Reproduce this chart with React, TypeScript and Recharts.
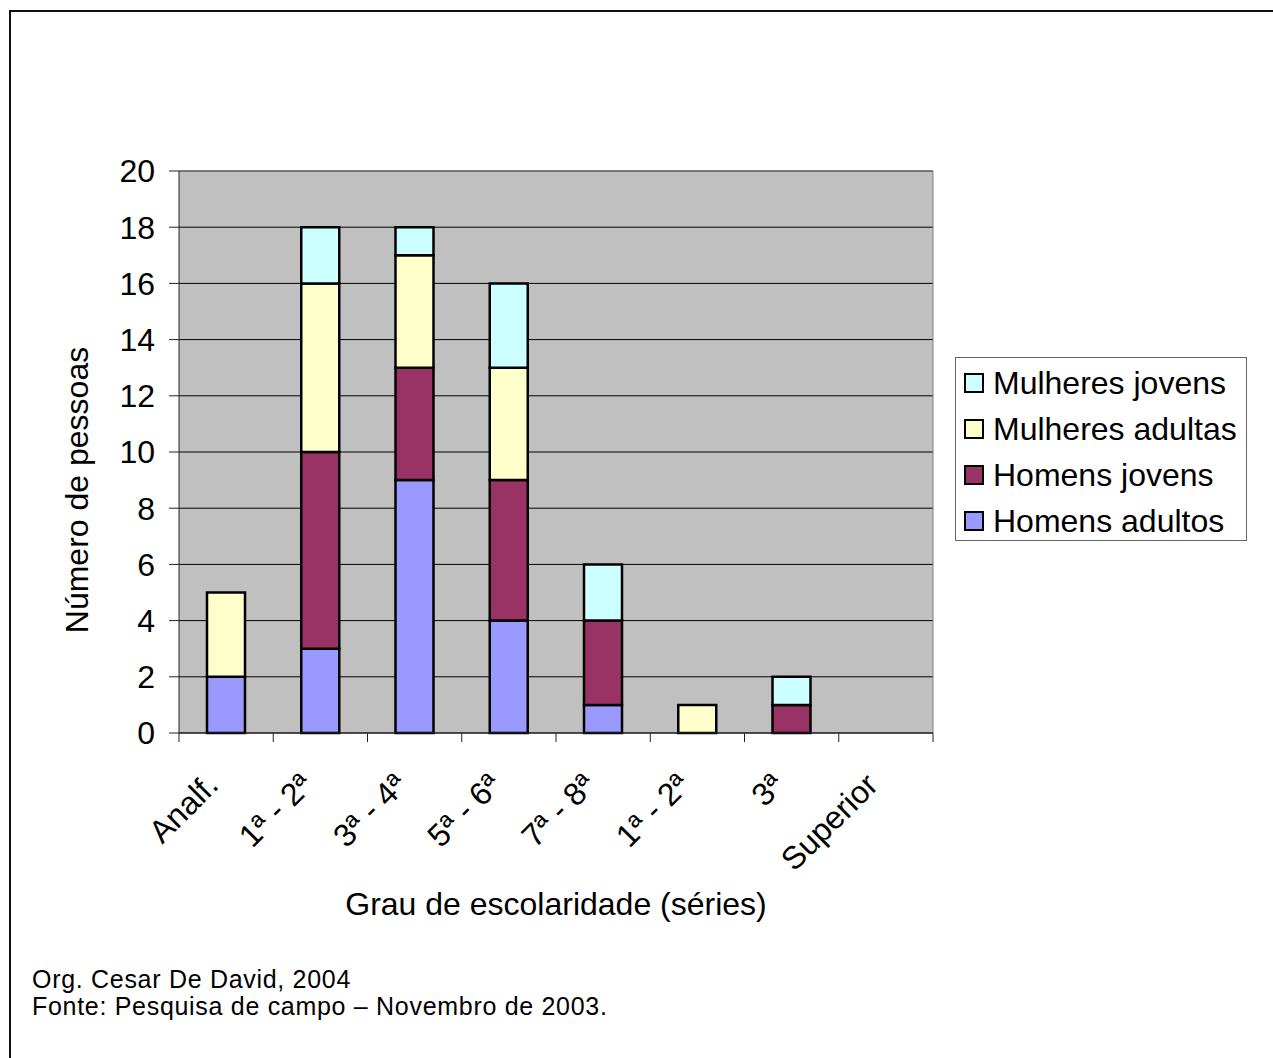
import React from "react"
import { BarChart, Bar, CartesianGrid, XAxis, YAxis, ReferenceLine, Label } from "recharts"

// Escolaridade por grupo (número de pessoas)
const categories = ["Analf.", "1ª - 2ª", "3ª - 4ª", "5ª - 6ª", "7ª - 8ª", "1ª - 2ª", "3ª", "Superior"]
const homensAdultos = [2, 3, 9, 4, 1, 0, 0, 0]
const homensJovens = [0, 7, 4, 5, 3, 0, 1, 0]
const mulheresAdultas = [3, 6, 4, 4, 0, 1, 0, 0]
const mulheresJovens = [0, 2, 1, 3, 2, 0, 1, 0]
const yTicks = [0, 2, 4, 6, 8, 10, 12, 14, 16, 18, 20]

const series = [
    { key: "ha", name: "Homens adultos", color: "#9999FF", values: homensAdultos },
    { key: "hj", name: "Homens jovens", color: "#993366", values: homensJovens },
    { key: "ma", name: "Mulheres adultas", color: "#FFFFCC", values: mulheresAdultas },
    { key: "mj", name: "Mulheres jovens", color: "#CCFFFF", values: mulheresJovens },
]

const data = categories.map((label, i) => {
    const row: Record<string, string | number> = { key: `c${i}`, label }
    series.forEach(s => { row[s.key] = s.values[i] })
    return row
})

const W = 1273
const H = 1058
const PLOT = { left: 179, top: 171, right: 933, bottom: 733 }
const Y_AXIS_W = 100
const X_AXIS_H = 180
const BAND = (PLOT.right - PLOT.left) / categories.length
const FONT = "'Liberation Sans', Arial, sans-serif"

const CategoryTick = (props: any) => {
    const { x, y, payload } = props
    const i = payload.index
    const half = BAND / 2
    const lx = x - 6
    const ly = y + 54
    return (
        <g>
            <line x1={x - half} x2={x - half} y1={y} y2={y + 9} stroke="#222" />
            {i === categories.length - 1 && (
                <line x1={x + half} x2={x + half} y1={y} y2={y + 9} stroke="#222" />
            )}
            <text
                x={lx}
                y={ly}
                textAnchor="end"
                fontSize={32}
                fontFamily={FONT}
                fill="#000"
                transform={`rotate(-45, ${lx}, ${ly})`}
            >
                {categories[i]}
            </text>
        </g>
    )
}

const App = () => {
    return (
        <div style={{ position: "absolute", left: 0, top: 0, width: W, height: H, overflow: "hidden", background: "#fff", fontFamily: FONT }}>
            <div style={{ position: "absolute", left: 9, top: 10, width: W + 20, height: H + 20, border: "2px solid #111", boxSizing: "border-box" }} />
            <BarChart
                width={W}
                height={H}
                data={data}
                margin={{ top: PLOT.top, right: W - PLOT.right, bottom: H - PLOT.bottom - X_AXIS_H, left: PLOT.left - Y_AXIS_W }}
                barSize={38}
                style={{ position: "absolute", left: 0, top: 0 }}
            >
                <CartesianGrid vertical={false} stroke="#000" fill="#C0C0C0" />
                <CartesianGrid
                    horizontal={false}
                    stroke="#808080"
                    verticalCoordinatesGenerator={({ offset }: any) => [offset.left + offset.width]}
                />
                <ReferenceLine y={20} stroke="#808080" />
                <XAxis
                    dataKey="key"
                    interval={0}
                    height={X_AXIS_H}
                    tickLine={false}
                    tickSize={0}
                    tickMargin={0}
                    axisLine={{ stroke: "#222" }}
                    tick={<CategoryTick />}
                >
                    <Label
                        content={({ viewBox }: any) => (
                            <text x={viewBox.x + viewBox.width / 2} y={viewBox.y + 182} textAnchor="middle" fontSize={32} fontFamily={FONT} fill="#000">
                                Grau de escolaridade (séries)
                            </text>
                        )}
                    />
                </XAxis>
                <YAxis
                    domain={[0, 20]}
                    ticks={yTicks}
                    width={Y_AXIS_W}
                    tickSize={10}
                    tickMargin={14}
                    axisLine={{ stroke: "#222" }}
                    tickLine={{ stroke: "#222" }}
                    tick={{ fill: "#000", fontSize: 32, fontFamily: FONT }}
                >
                    <Label
                        content={({ viewBox }: any) => {
                            const lx = viewBox.x + 9
                            const ly = viewBox.y + viewBox.height / 2 + 38
                            return (
                                <text x={lx} y={ly} textAnchor="middle" fontSize={32} fontFamily={FONT} fill="#000" transform={`rotate(-90, ${lx}, ${ly})`}>
                                    Número de pessoas
                                </text>
                            )
                        }}
                    />
                </YAxis>
                {series.map(s => (
                    <Bar
                        key={s.key}
                        dataKey={s.key}
                        name={s.name}
                        stackId="total"
                        fill={s.color}
                        stroke="#000"
                        strokeWidth={2.5}
                        isAnimationActive={false}
                    />
                ))}
            </BarChart>
            <div style={{ position: "absolute", left: 955, top: 357, width: 292, height: 184, border: "1px solid #666", boxSizing: "border-box", background: "#fff" }}>
                {[...series].reverse().map((s, i) => (
                    <div key={s.key} style={{ position: "absolute", left: 8, top: 14 + i * 46, height: 22, display: "flex", alignItems: "center" }}>
                        <div style={{ width: 20, height: 20, background: s.color, border: "2px solid #000", boxSizing: "border-box" }} />
                        <span style={{ marginLeft: 9, fontSize: 32, lineHeight: "22px", color: "#000", whiteSpace: "nowrap" }}>{s.name}</span>
                    </div>
                ))}
            </div>
            <div style={{ position: "absolute", left: 32, top: 966, fontSize: 25, lineHeight: "26.6px", letterSpacing: 0.7, color: "#000", whiteSpace: "nowrap" }}>
                <div>Org. Cesar De David, 2004</div>
                <div>Fonte: Pesquisa de campo – Novembro de 2003.</div>
            </div>
        </div>
    )
}

export default App
